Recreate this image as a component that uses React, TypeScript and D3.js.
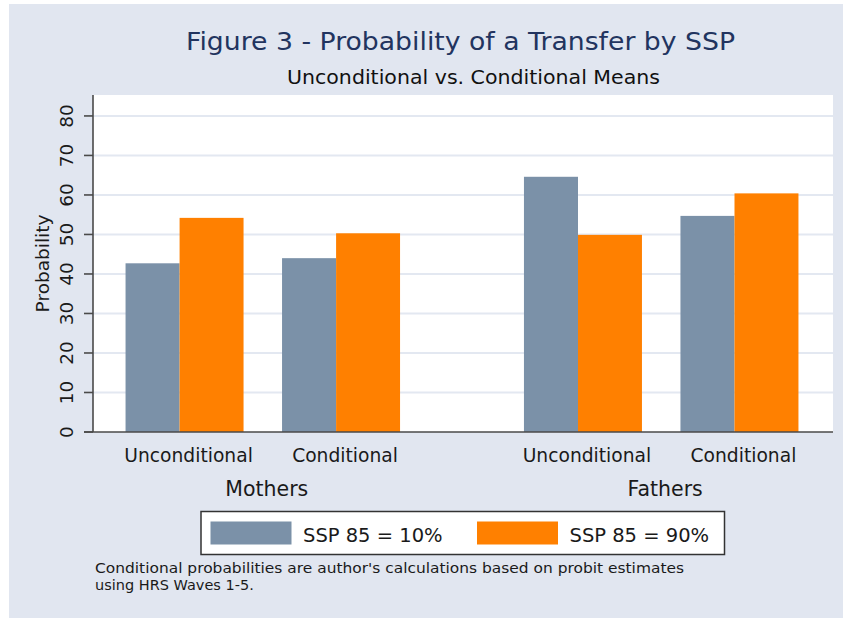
import React from 'react';
import * as d3 from 'd3';

const groups = ['Mothers', 'Fathers'];
const kinds = ['Unconditional', 'Conditional'];
const seriesNames = ['SSP 85 = 10%', 'SSP 85 = 90%'];
// values per group, kind: [SSP 10%, SSP 90%]
const low = [42.7, 44.0, 64.6, 54.7];
const high = [54.2, 50.3, 49.9, 60.4];
const yTicks = [0, 10, 20, 30, 40, 50, 60, 70, 80];
const title = 'Figure 3 - Probability of a Transfer by SSP';
const subtitle = 'Unconditional vs. Conditional Means';
const noteLines = [
  "Conditional probabilities are author's calculations based on probit estimates",
  'using HRS Waves 1-5.',
];

const W = 843;
const H = 618;
const plot = { left: 93, right: 833, top: 95, bottom: 432 };
const colors = ['#7b91a8', '#ff8000'];
const font = '"DejaVu Sans", sans-serif';

const App: React.FC = () => {
  const y = d3.scaleLinear().domain([0, 85.3]).range([plot.bottom, plot.top]);
  const outer = d3
    .scalePoint<string>()
    .domain(groups)
    .range([plot.left + 3, plot.right + 3])
    .padding(0.4287);
  const inner = d3.scalePoint<string>().domain(kinds).range([-78.25, 78.25]);

  const pairWidth = 118;
  const split = d3.scaleLinear().domain([0, 1]).range([-63, 55]);
  const grayFrac = 0.458;

  const cells = groups.flatMap((g, gi) =>
    kinds.map((k, ki) => {
      const i = gi * 2 + ki;
      return { g, k, cx: outer(g)! + inner(k)!, v: [low[i], high[i]] };
    })
  );

  return (
    <svg
      width={W}
      height={H}
      style={{ position: 'absolute', left: 0, top: 0 }}
      fontFamily={font}
    >
      <rect x={0} y={0} width={W} height={H} fill='#fff' />
      <rect x={9} y={4} width={W - 9} height={H - 4} fill='#e1e6f0' />
      <rect
        x={plot.left}
        y={plot.top}
        width={plot.right - plot.left}
        height={plot.bottom - plot.top}
        fill='#fff'
      />
      {yTicks
        .filter((t) => t > 0)
        .map((t) => (
          <line
            key={t}
            x1={plot.left}
            x2={plot.right}
            y1={y(t)}
            y2={y(t)}
            stroke='#e3e8f1'
            strokeWidth={2}
          />
        ))}

      {cells.map((c) => {
        const left = c.cx + split(0);
        const mid = left + pairWidth * grayFrac;
        const right = c.cx + split(1);
        return (
          <g key={c.g + c.k}>
            <rect
              x={left}
              y={y(c.v[0])}
              width={mid - left}
              height={y(0) - y(c.v[0])}
              fill={colors[0]}
            />
            <rect
              x={mid}
              y={y(c.v[1])}
              width={right - mid}
              height={y(0) - y(c.v[1])}
              fill={colors[1]}
            />
          </g>
        );
      })}

      {/* axes */}
      <line
        x1={plot.left}
        x2={plot.left}
        y1={plot.top}
        y2={plot.bottom}
        stroke='#4a4a4a'
        strokeWidth={1.6}
      />
      <line
        x1={plot.left - 9}
        x2={plot.right}
        y1={plot.bottom}
        y2={plot.bottom}
        stroke='#4a4a4a'
        strokeWidth={1.6}
      />
      {yTicks.map((t) => (
        <g key={t}>
          <line
            x1={plot.left - 9}
            x2={plot.left}
            y1={y(t)}
            y2={y(t)}
            stroke='#4a4a4a'
            strokeWidth={1.6}
          />
          <text
            transform={`translate(73,${y(t)}) rotate(-90)`}
            textAnchor='middle'
            fontSize={18.5}
            fill='#1a1a1a'
          >
            {t}
          </text>
        </g>
      ))}
      <text
        transform={`translate(49,${(plot.top + plot.bottom) / 2}) rotate(-90)`}
        textAnchor='middle'
        fontSize={18.5}
        fill='#1a1a1a'
      >
        Probability
      </text>

      {cells.map((c) => (
        <text
          key={'l' + c.g + c.k}
          x={c.cx}
          y={461.5}
          textAnchor='middle'
          fontSize={18.7}
          fill='#1a1a1a'
        >
          {c.k}
        </text>
      ))}
      {groups.map((g) => (
        <text
          key={g}
          x={outer(g)}
          y={495.5}
          textAnchor='middle'
          fontSize={20.5}
          fill='#1a1a1a'
        >
          {g}
        </text>
      ))}

      {/* titles */}
      <text
        x={186}
        y={50}
        fontSize={25}
        fill='#22345f'
        textLength={549}
        lengthAdjust='spacingAndGlyphs'
      >
        {title}
      </text>
      <text
        x={287}
        y={84}
        fontSize={19.5}
        fill='#111'
        textLength={373}
        lengthAdjust='spacingAndGlyphs'
      >
        {subtitle}
      </text>

      {/* legend */}
      <rect
        x={201}
        y={511.5}
        width={523.5}
        height={43}
        fill='#fff'
        stroke='#333'
        strokeWidth={1.5}
      />
      {seriesNames.map((s, i) => (
        <g key={s} transform={`translate(${210.5 + i * 266.5},0)`}>
          <rect x={0} y={521.5} width={81} height={23} fill={colors[i]} />
          <text x={92.5} y={541.5} fontSize={19.5} fill='#1a1a1a'>
            {s}
          </text>
        </g>
      ))}

      {noteLines.map((l, i) => (
        <text
          key={i}
          x={95}
          y={572.5 + i * 17}
          fontSize={14.5}
          fill='#1a1a1a'
          textLength={i === 0 ? 589 : undefined}
          lengthAdjust='spacingAndGlyphs'
        >
          {l}
        </text>
      ))}
    </svg>
  );
};

export default App;
